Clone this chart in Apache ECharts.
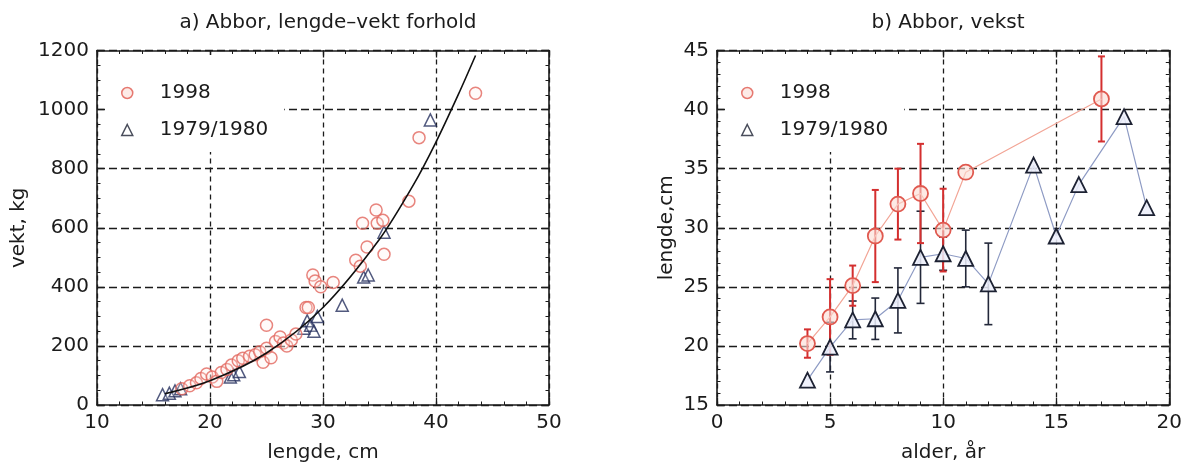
<!DOCTYPE html>
<html><head><meta charset="utf-8">
<script src="https://cdn.jsdelivr.net/npm/echarts@6/dist/echarts.min.js"></script>
<style>html,body{margin:0;padding:0;background:#fff}#c{width:1185px;height:468px}</style>
</head><body><div id="c"></div>
<script>
// ---- panel a) length-weight ----
const titleA = 'a) Abbor, lengde\u2013vekt forhold';
const titleB = 'b) Abbor, vekst';
const legendNames = ['1998', '1979/1980'];

const len98 = [17.5,18.2,18.8,19.2,19.7,20.2,20.6,21.0,21.5,21.9,22.5,22.9,23.5,24.0,24.4,24.7,25.0,25.0,25.4,25.8,26.2,26.5,26.8,27.2,27.6,28.5,28.7,29.1,29.3,29.8,30.9,32.9,33.3,33.5,33.9,34.7,34.8,35.3,35.4,37.6,38.5,43.5];
const wt98  = [55,65,75,90,105,95,80,110,120,135,150,158,165,170,180,145,270,192,160,215,230,210,200,220,240,330,330,440,420,400,415,490,470,615,535,660,615,625,510,690,905,1055];

const len79 = [15.8,16.4,16.9,17.4,21.8,22.1,22.6,28.3,28.6,28.9,29.2,29.5,31.7,33.6,34.0,35.4,39.5];
const wt79  = [35,40,48,55,95,102,113,260,285,270,250,300,338,433,440,585,965];

const curveLen = [16,20,25,30,35,38,40,42,43.5];
const curveWt  = [38,82,176,330,561,745,890,1053,1183];

// ---- panel b) growth ----
const age98  = [4,5,6,7,8,9,10,11,17];
const mean98 = [20.2,22.45,25.1,29.3,32.0,32.9,29.8,34.7,40.9];
const sd98   = [1.2,3.2,1.7,3.9,3.0,4.2,3.5,null,3.6];

const age79  = [4,5,6,7,8,9,10,11,12,14,15,16,18,19];
const mean79 = [17.1,19.9,22.2,22.3,23.85,27.5,27.8,27.4,25.25,35.3,29.3,33.65,39.4,31.7];
const sd79   = [null,2.1,1.6,1.75,2.75,3.9,1.4,2.4,3.45,null,null,null,null,null];

const FONT = 'DejaVu Sans';
const INK = '#1b1b1b';
const RED = '#e0594f';
const NAVY = '#1d2233';

function pairs(a, b){ return a.map((v,i)=>[v, b[i]]); }
function bars(a, m, s){ const out=[]; a.forEach((v,i)=>{ if(s[i]!=null) out.push([v, m[i]-s[i], m[i]+s[i]]); }); return out; }

function errRender(color, w, cap){
  return function(params, api){
    const x = api.value(0), lo = api.value(1), hi = api.value(2);
    const a = api.coord([x, lo]), b = api.coord([x, hi]);
    const st = {stroke: color, lineWidth: w};
    return {type:'group', children:[
      {type:'line', shape:{x1:a[0],y1:a[1],x2:b[0],y2:b[1]}, style:st},
      {type:'line', shape:{x1:a[0]-cap,y1:a[1],x2:a[0]+cap,y2:a[1]}, style:st},
      {type:'line', shape:{x1:b[0]-cap,y1:b[1],x2:b[0]+cap,y2:b[1]}, style:st}
    ]};
  };
}

const frameLine = ()=>({show:true, onZero:false, lineStyle:{color:INK, width:1.6}});
const tick = ()=>({show:true, inside:true, length:7, lineStyle:{color:INK, width:1.3}});
const minor = (n)=>({show:true, splitNumber:n, length:3.5, lineStyle:{color:INK, width:1}});
const label = ()=>({color:INK, fontFamily:FONT, fontSize:20, margin:8, formatter:(v)=>String(v)});
const nameStyle = ()=>({color:INK, fontFamily:FONT, fontSize:20});

function mainX(grid, min, max, interval, name, dash, mn){
  return {type:'value', gridIndex:grid, position:'bottom', min, max, interval,
    name, nameLocation:'middle', nameGap:38, nameTextStyle:nameStyle(),
    axisLine:frameLine(), axisTick:tick(), minorTick:minor(mn), axisLabel:label(),
    splitLine:{show:true, lineStyle:{color:INK, width:1.3, type:dash}}};
}
function sideX(grid, min, max, interval, mn){
  return {type:'value', gridIndex:grid, position:'top', min, max, interval,
    axisLine:frameLine(), axisTick:tick(), minorTick:minor(mn), axisLabel:{show:false}, splitLine:{show:false}};
}
function mainY(grid, min, max, interval, name, gap, dash, mn){
  return {type:'value', gridIndex:grid, position:'left', min, max, interval,
    name, nameLocation:'middle', nameGap:gap, nameRotate:90, nameTextStyle:nameStyle(),
    axisLine:frameLine(), axisTick:tick(), minorTick:minor(mn), axisLabel:label(),
    splitLine:{show:true, lineStyle:{color:INK, width:1.3, type:dash}}};
}
function sideY(grid, min, max, interval, mn){
  return {type:'value', gridIndex:grid, position:'right', min, max, interval,
    axisLine:frameLine(), axisTick:tick(), minorTick:minor(mn), axisLabel:{show:false}, splitLine:{show:false}};
}

const legendData = [
  {name:legendNames[0], icon:'circle', itemStyle:{color:'#fde6e1', borderColor:RED, borderWidth:1.5}},
  {name:legendNames[1], icon:'triangle', itemStyle:{color:'#ffffff', borderColor:NAVY, borderWidth:1.5}}
];
function legendAt(left){
  return {left, top:55, orient:'vertical', data:legendData, itemWidth:11, itemHeight:11, itemGap:17,
    backgroundColor:'#ffffff', padding:[28,16,12,15], selectedMode:false,
    textStyle:{color:INK, fontFamily:FONT, fontSize:20, padding:[0,0,0,22]}};
}

const option = {
  animation:false,
  backgroundColor:'#ffffff',
  title:[
    {text:titleA, left:323, top:8, textAlign:'center', textStyle:{color:INK, fontFamily:FONT, fontSize:20, fontWeight:'normal'}},
    {text:titleB, left:943, top:8, textAlign:'center', textStyle:{color:INK, fontFamily:FONT, fontSize:20, fontWeight:'normal'}}
  ],
  legend:[legendAt(106), legendAt(726)],
  grid:[
    {left:97, top:50.5, width:452, height:357.5, containLabel:false},
    {left:717, top:50.5, width:452.5, height:357.5, containLabel:false}
  ],
  xAxis:[
    mainX(0, 10, 50, 10, 'lengde, cm', [5,4], 5),
    sideX(0, 10, 50, 10, 5),
    mainX(1, 0, 20, 5, 'alder, \u00e5r', [5,4], 5),
    sideX(1, 0, 20, 5, 5)
  ],
  yAxis:[
    mainY(0, 0, 1200, 200, 'vekt, kg', 68, [8,4], 4),
    sideY(0, 0, 1200, 200, 4),
    mainY(1, 15, 45, 5, 'lengde,cm', 40, [8,4], 5),
    sideY(1, 15, 45, 5, 5)
  ],
  series:[
    {name:legendNames[1], type:'scatter', xAxisIndex:0, yAxisIndex:0, data:pairs(len79, wt79),
      symbol:'triangle', symbolSize:12, z:3,
      itemStyle:{color:'rgba(255,255,255,0.25)', borderColor:'#26305e', borderWidth:1.5}},
    {name:legendNames[0], type:'scatter', xAxisIndex:0, yAxisIndex:0, data:pairs(len98, wt98),
      symbol:'circle', symbolSize:12, z:3,
      itemStyle:{color:'rgba(255,236,232,0.35)', borderColor:'#e2665e', borderWidth:1.5}},
    {name:'fit', type:'line', xAxisIndex:0, yAxisIndex:0, data:pairs(curveLen, curveWt),
      smooth:0.3, showSymbol:false, symbol:'none', z:4, lineStyle:{color:'#111', width:1.6}},

    {name:'sd79', type:'custom', xAxisIndex:2, yAxisIndex:2, data:bars(age79, mean79, sd79),
      encode:{x:0, y:[1,2]}, z:1, renderItem:errRender('#23283a', 1.6, 4)},
    {name:'sd98', type:'custom', xAxisIndex:2, yAxisIndex:2, data:bars(age98, mean98, sd98),
      encode:{x:0, y:[1,2]}, z:1, renderItem:errRender('#d42f2f', 2, 3.5)},
    {name:legendNames[1], type:'line', xAxisIndex:2, yAxisIndex:2, data:pairs(age79, mean79),
      symbol:'triangle', symbolSize:15, z:3,
      lineStyle:{color:'#8e9bc4', width:1.2},
      itemStyle:{color:'rgba(236,239,250,0.85)', borderColor:NAVY, borderWidth:1.8}},
    {name:legendNames[0], type:'line', xAxisIndex:2, yAxisIndex:2, data:pairs(age98, mean98),
      symbol:'circle', symbolSize:15, z:3,
      lineStyle:{color:'#f2a596', width:1.2},
      itemStyle:{color:'rgba(252,220,212,0.6)', borderColor:RED, borderWidth:1.8}}
  ]
};

const chart = echarts.init(document.getElementById('c'), null, {renderer:'canvas'});
chart.setOption(option);
</script>
</body></html>
